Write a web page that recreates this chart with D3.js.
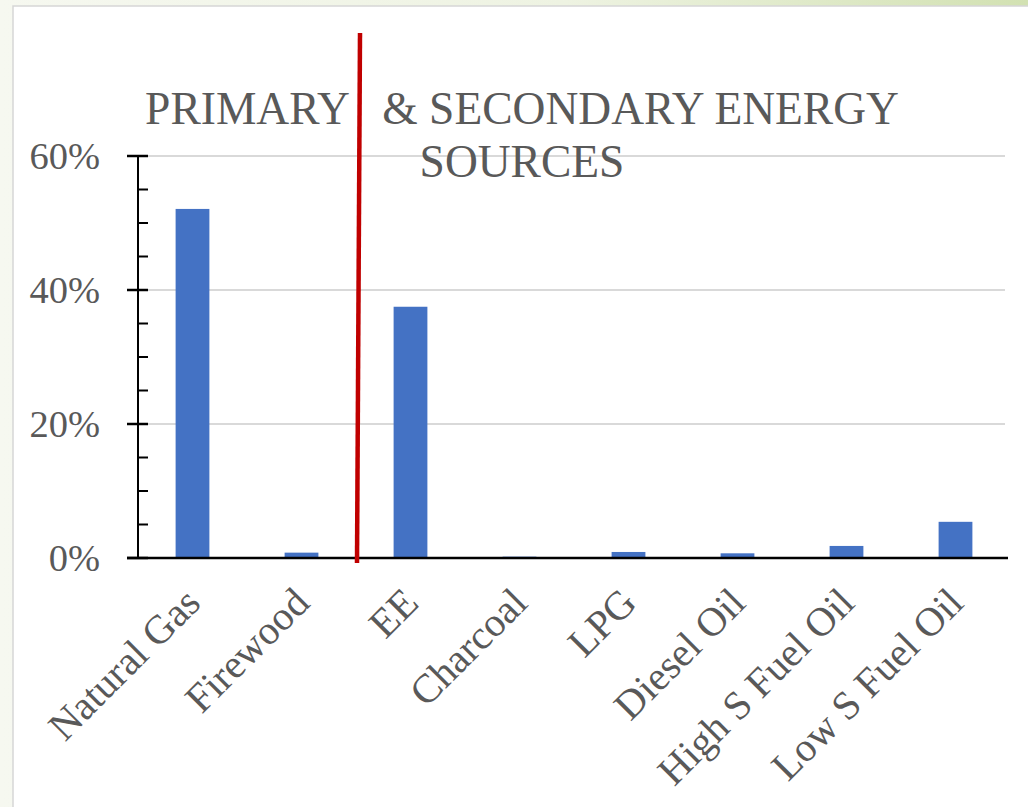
<!DOCTYPE html>
<html>
<head>
<meta charset="utf-8">
<script src="https://cdn.jsdelivr.net/npm/d3@7"></script>
<style>
  html, body { margin: 0; padding: 0; }
  body { width: 1028px; height: 807px; overflow: hidden;
         background: linear-gradient(90deg, #f6f8f0 0%, #eef3e2 55%, #d2e1b2 100%); }
  svg { display: block; }
  text { font-family: "Liberation Serif", "Times New Roman", serif; fill: #595959; }
</style>
</head>
<body>
<svg id="chart" width="1028" height="807"></svg>
<script>
// Share of each energy source
const categories = ["Natural Gas", "Firewood", "EE", "Charcoal", "LPG", "Diesel Oil", "High S Fuel Oil", "Low S Fuel Oil"];
const shares = [0.521, 0.008, 0.375, 0.002, 0.009, 0.007, 0.018, 0.054];
const yTicks = [0, 0.2, 0.4, 0.6];
const titleLines = ["PRIMARY   & SECONDARY ENERGY", "SOURCES"];

const svg = d3.select("#chart");

// white slide panel
svg.append("rect")
  .attr("x", 13).attr("y", 6).attr("width", 1030).attr("height", 820)
  .attr("fill", "#ffffff").attr("stroke", "#d6d6d6").attr("stroke-width", 1.5);

const plotLeft = 138, plotRight = 1010, plotTop = 156, plotBottom = 558;

const x = d3.scaleBand().domain(categories).range([plotLeft, plotRight])
  .paddingInner(0.69).paddingOuter(0.345);
const y = d3.scaleLinear().domain([0, 0.6]).range([plotBottom, plotTop]);

// gridlines
svg.append("g").selectAll("line")
  .data(yTicks.filter(d => d > 0))
  .join("line")
  .attr("x1", plotLeft).attr("x2", 1005)
  .attr("y1", d => y(d)).attr("y2", d => y(d))
  .attr("stroke", "#d9d9d9").attr("stroke-width", 2);

// bars
svg.append("g").selectAll("rect")
  .data(categories)
  .join("rect")
  .attr("x", d => x(d))
  .attr("width", x.bandwidth())
  .attr("y", (d, i) => y(shares[i]))
  .attr("height", (d, i) => plotBottom - y(shares[i]))
  .attr("fill", "#4472c4");

// y axis with major and minor ticks
const yAxis = svg.append("g");
yAxis.append("line")
  .attr("x1", plotLeft).attr("x2", plotLeft).attr("y1", y(0.6)).attr("y2", plotBottom)
  .attr("stroke", "#000").attr("stroke-width", 2);
yAxis.selectAll("line.minor")
  .data(d3.range(0, 13).map(i => i * 0.05))
  .join("line").attr("class", "minor")
  .attr("x1", plotLeft).attr("x2", plotLeft + 10)
  .attr("y1", d => y(d)).attr("y2", d => y(d))
  .attr("stroke", "#000").attr("stroke-width", 2);
yAxis.selectAll("line.major")
  .data(yTicks)
  .join("line").attr("class", "major")
  .attr("x1", plotLeft - 11).attr("x2", plotLeft + 10)
  .attr("y1", d => y(d)).attr("y2", d => y(d))
  .attr("stroke", "#000").attr("stroke-width", 2.5);
yAxis.selectAll("text")
  .data(yTicks)
  .join("text")
  .attr("x", 100).attr("y", d => y(d))
  .attr("dy", "0.35em")
  .attr("text-anchor", "end")
  .attr("font-size", 38.5)
  .text(d => d3.format(".0%")(d));

// x axis baseline
svg.append("line")
  .attr("x1", plotLeft - 11).attr("x2", 1008).attr("y1", plotBottom).attr("y2", plotBottom)
  .attr("stroke", "#000").attr("stroke-width", 2.5);

// category labels, rotated
svg.append("g").selectAll("text")
  .data(categories)
  .join("text")
  .attr("text-anchor", "end")
  .attr("font-size", 40.5)
  .attr("transform", d => `translate(${x(d) + x.bandwidth() / 2 + 10},${plotBottom + 47}) rotate(-45)`)
  .text(d => d);

// title
const title = svg.append("text")
  .attr("text-anchor", "middle")
  .attr("font-size", 45.5)
  .style("white-space", "pre");
title.selectAll("tspan")
  .data(titleLines)
  .join("tspan")
  .attr("x", 522)
  .attr("y", (d, i) => 124 + i * 53)
  .text(d => d);

// divider between primary and secondary sources
svg.append("line")
  .attr("x1", 360).attr("y1", 33).attr("x2", 357).attr("y2", 563)
  .attr("stroke", "#c00000").attr("stroke-width", 4.5);
</script>
</body>
</html>
